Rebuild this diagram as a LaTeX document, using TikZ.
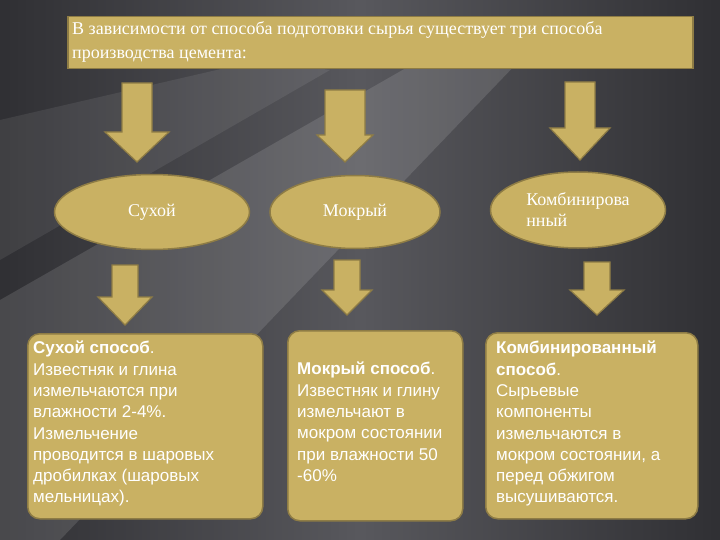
\documentclass[tikz,border=0pt]{standalone}
\usepackage{fontspec}
\setmainfont{Liberation Serif}
\setsansfont{Liberation Sans}
\usetikzlibrary{shapes.geometric,fadings}
\definecolor{tan}{HTML}{C9B163}
\definecolor{tanb}{HTML}{8E7C45}
\definecolor{bgd}{HTML}{303034}
\definecolor{bgl}{HTML}{8A8A90}
\tikzset{
 box/.style={fill=tan,draw=tanb,line width=1.5pt},
 oval/.style={ellipse,fill=tan,draw=tanb,line width=1.5pt,font=\fontsize{18}{21}\selectfont,text=white},
 btxt/.style={font=\sffamily\fontsize{17}{21.3}\selectfont,text=white,align=left,anchor=north west,inner sep=0pt}
}
\newcommand{\blockarrow}[6]{% cx, top, headstart, tip, halfshaft, halfhead
 \fill[tan,draw=tanb,line width=1.2pt] (#1-#5,#2)--(#1+#5,#2)--(#1+#5,#3)--(#1+#6,#3)--(#1,#4)--(#1-#6,#3)--(#1-#5,#3)--cycle;}
\begin{document}
\begin{tikzpicture}[x=1pt,y=-1pt]
\useasboundingbox (0,0) rectangle (720,540);
\shade[left color=bgd,right color=bgd,middle color=bgl] (0,0) rectangle (720,540);
\fill[bgd,opacity=0.55] (0,0)--(720,0)--(720,540)--(0,540)--cycle;
\fill[white,opacity=0.12] (0,300)--(420,60)--(520,60)--(60,540)--(0,540)--cycle;
\fill[white,opacity=0.08] (0,120)--(260,60)--(330,70)--(0,260)--cycle;
\node[box,minimum width=625pt,minimum height=52pt,anchor=north west] (top) at (67,16) {};
\node[anchor=north west,align=left,text=white,font=\fontsize{18}{24}\selectfont,inner sep=0pt] (toptext) at (72,21)
 {В зависимости от способа подготовки сырья существует три способа\\производства цемента:};
\blockarrow{137}{83}{132}{162}{15}{32}
\blockarrow{345}{90}{135}{162}{20}{28}
\blockarrow{580}{82}{128}{160}{15}{30}
\node[oval,minimum width=195pt,minimum height=75pt] (e1) at (152,212) {Сухой};
\node[oval,minimum width=170pt,minimum height=73pt] (e2) at (355,212) {Мокрый};
\node[oval,minimum width=175pt,minimum height=76pt,align=left,inner sep=0pt] (e3) at (578,210) {Комбинирова\\нный};
\blockarrow{125}{265}{297}{325}{13}{27}
\blockarrow{347}{260}{290}{315}{13}{25}
\blockarrow{597}{262}{290}{315}{13}{27}
\node[box,rounded corners=12pt,minimum width=235pt,minimum height=185pt,anchor=north west] (b1) at (27,333) {};
\node[box,rounded corners=12pt,minimum width=175pt,minimum height=190pt,anchor=north west] (b2) at (287,330) {};
\node[box,rounded corners=12pt,minimum width=212pt,minimum height=186pt,anchor=north west] (b3) at (485,332) {};
\node[btxt] (t1) at (33,341) {\textbf{Сухой способ}.\\Известняк и глина\\измельчаются при\\влажности 2-4\%.\\Измельчение\\проводится в шаровых\\дробилках (шаровых\\мельницах).};
\node[btxt] (t2) at (297,362) {\textbf{Мокрый способ}.\\Известняк и глину\\измельчают в\\мокром состоянии\\при влажности 50\\-60\%};
\node[btxt] (t3) at (496,341) {\textbf{Комбинированный}\\\textbf{способ}.\\Сырьевые\\компоненты\\измельчаются в\\мокром состоянии, а\\перед обжигом\\высушиваются.};
\end{tikzpicture}
\end{document}
